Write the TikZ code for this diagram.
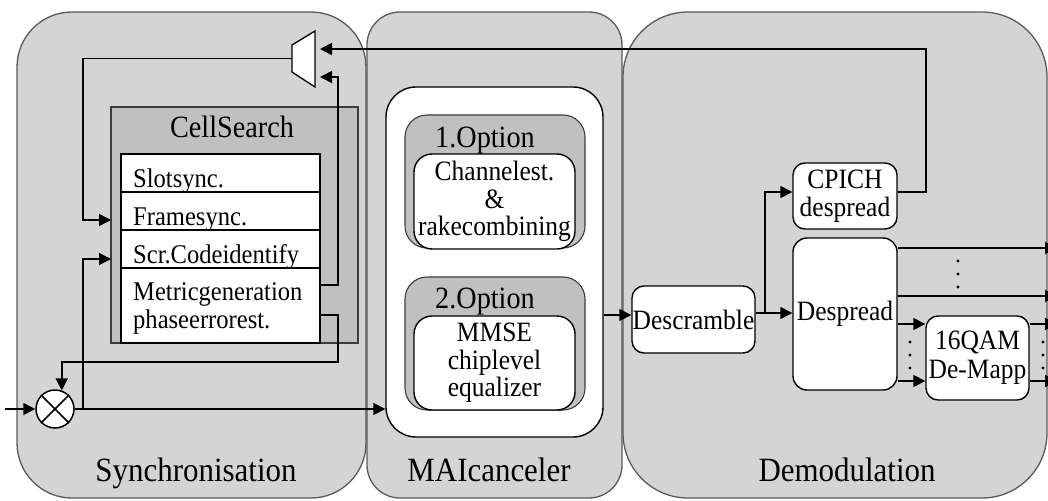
\documentclass[tikz,border=0pt]{standalone}
\usepackage{fontspec}
\setmainfont{Liberation Serif}[FakeStretch=0.91]
\usetikzlibrary{arrows.meta,calc}

\definecolor{panelfill}{HTML}{D4D4D4}
\definecolor{panelline}{HTML}{5A5A5A}
\definecolor{innerfill}{HTML}{C0C0C0}
\definecolor{innerline}{HTML}{3C3C3C}

\begin{document}
\begin{tikzpicture}[x=1pt,y=-1pt,
  panel/.style={draw=panelline, fill=panelfill, line width=1.3pt, inner sep=0pt},
  paneltxt/.style={font=\fontsize{34}{36}\selectfont, inner sep=0pt},
  graybox/.style={draw=innerline, fill=innerfill, line width=1.1pt, inner sep=0pt},
  whitebox/.style={draw=black, fill=white, line width=1.4pt, inner sep=0pt, align=center,
    font=\fontsize{28}{27.5}\selectfont},
  rowbox/.style={draw=black, fill=white, line width=1.4pt, inner sep=0pt, minimum width=199pt},
  rowtxt/.style={font=\fontsize{27}{28}\selectfont, inner sep=0pt, anchor=base west, align=left},
  headtxt/.style={font=\fontsize{31}{30}\selectfont, inner sep=0pt, anchor=base},
  wire/.style={draw=black, line width=1.5pt},
  arr/.style={wire, -{Triangle[length=12pt,width=12pt]}},
  dotmark/.style={fill=black}
]
\useasboundingbox (0,0) rectangle (1048,500);

% ---------- the three stages ----------
\node[panel, rounded corners=55pt, minimum width=349pt, minimum height=486pt] (sync) at (191.5,255) {};
\node[panel, rounded corners=33pt, minimum width=255pt, minimum height=486pt] (maip) at (494.5,255) {};
\node[panel, rounded corners=65pt, minimum width=424pt, minimum height=486pt] (demod) at (835,255) {};

\node[paneltxt, anchor=base] (syncL) at (196,481) {Synchronisation};
\node[paneltxt, anchor=base] (maiL) at (489,481) {MAIcanceler};
\node[paneltxt, anchor=base] (demodL) at (847,481) {Demodulation};

% ---------- cell search ----------
\node[graybox, minimum width=247pt, minimum height=236pt] (cs) at (234.5,225) {};
\node[headtxt] (csL) at (232,137) {CellSearch};
\node[rowbox, minimum height=38pt] (slot) at (220.5,173) {};
\node[rowbox, minimum height=38pt] (frame) at (220.5,211) {};
\node[rowbox, minimum height=38pt] (scr) at (220.5,249) {};
\node[rowbox, minimum height=75pt] (metric) at (220.5,305.5) {};
\node[rowtxt] (slotT) at (133,187.5) {Slotsync.};
\node[rowtxt] (frameT) at (133,225) {Framesync.};
\node[rowtxt] (scrT) at (133,263.5) {Scr.Codeidentify};
\node[rowtxt] (metricT) at (133,300) {Metricgeneration};
\node[rowtxt] (phaseT) at (133,328) {phaseerrorest.};

% ---------- selector ----------
\draw[wire, fill=white, line width=1.3pt] (292,45) -- (315,31) -- (315,87) -- (292,72) -- cycle;
\coordinate (muxout) at (292,58.5);
\coordinate (muxinA) at (320,49);
\coordinate (muxinB) at (320,77);

% ---------- mixer ----------
\node[circle, draw=black, fill=white, line width=1.5pt, minimum size=38pt, inner sep=0pt] (mult) at (55,409) {};
\draw[wire] (mult.45) -- (mult.225) (mult.135) -- (mult.315);

% ---------- MAI canceler ----------
\node[whitebox, rounded corners=30pt, minimum width=217pt, minimum height=350pt] (mai) at (494.5,262) {};
\node[graybox, rounded corners=22pt, minimum width=180pt, minimum height=133pt] (opt1) at (495,181.5) {};
\node[headtxt] (opt1L) at (485,147) {1.Option};
\node[whitebox, rounded corners=18pt, minimum width=161pt, minimum height=95pt] (chest) at (494.5,201.5)
  {Channelest.\\\&\\rakecombining};
\node[graybox, rounded corners=22pt, minimum width=180pt, minimum height=133pt] (opt2) at (495,343.5) {};
\node[headtxt] (opt2L) at (485,308) {2.Option};
\node[whitebox, rounded corners=18pt, minimum width=161pt, minimum height=94pt] (mmse) at (494.5,363)
  {MMSE\\chiplevel\\equalizer};

% ---------- demodulation ----------
\node[whitebox, rounded corners=12pt, minimum width=123pt, minimum height=67pt] (descr) at (693.5,319.5) {Descramble};
\node[whitebox, rounded corners=12pt, minimum width=104pt, minimum height=66pt] (cpich) at (845,196) {CPICH\\despread};
\node[whitebox, rounded corners=14pt, minimum width=104pt, minimum height=152pt] (despread) at (845,314) {Despread};
\node[whitebox, rounded corners=12pt, minimum width=103pt, minimum height=84pt,
  font=\fontsize{28}{29}\selectfont] (qam) at (977.5,358) {16QAM\\De-Mapp};

% ---------- junctions ----------
\coordinate (src) at (5,409);
\coordinate (busx) at (83,409);
\coordinate (inFrame) at (111,220);
\coordinate (inScr) at (111,259);
\coordinate (mOutA) at (320,285);
\coordinate (mOutB) at (320,315);
\coordinate (rail) at (338,362);
\coordinate (jD) at (765,313);
\coordinate (topc) at (926,49);
\coordinate (edge) at (1057,0);

% ---------- connectors ----------
\draw[arr] (src) -- (mult.west);
\draw[arr] (mult.east) -- (mai.west |- mult.east);
\draw[arr] (busx) |- (inScr);
\draw[arr] (muxout) -| (busx |- inFrame) -- (inFrame);
\draw[arr] (mOutA) -| (rail |- muxinB) -- (muxinB);
\draw[arr] (mOutB) -| (rail) -| (mult.70);
\draw[arr] (mai.east |- 0,315) -- (descr.west |- 0,315);
\draw[wire] (descr.east |- jD) -- (jD);
\draw[arr] (jD) |- (cpich.west |- 0,192);
\draw[arr] (jD) -- (despread.west |- jD);
\draw[arr] (cpich.east |- 0,192) -| (topc) -- (muxinA);
\foreach \y in {248,296}
  \draw[arr] (despread.east |- 0,\y) -- (edge |- 0,\y);
\foreach \y in {324,381} {
  \draw[arr] (despread.east |- 0,\y) -- (qam.west |- 0,\y);
  \draw[arr] (qam.east |- 0,\y) -- (edge |- 0,\y);
}

% ---------- ellipsis dots ----------
\foreach \y in {261,274,287} \fill[dotmark] (958,\y) circle (1.7pt);
\foreach \y in {342,355,368} {
  \fill[dotmark] (910,\y) circle (1.7pt);
  \fill[dotmark] (1043,\y) circle (1.7pt);
}
\end{tikzpicture}
\end{document}
